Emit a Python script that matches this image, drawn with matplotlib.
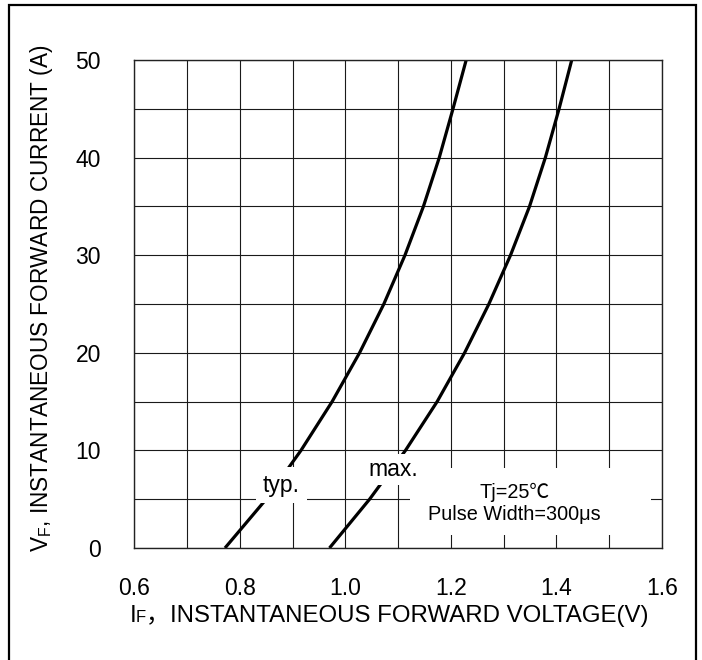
import matplotlib
matplotlib.use("Agg")
import matplotlib.pyplot as plt
from matplotlib.patches import Rectangle
from matplotlib.offsetbox import TextArea, HPacker, AnchoredOffsetbox

plt.rcParams['font.family'] = ['Liberation Sans', 'Noto Sans CJK SC', 'DejaVu Sans']
plt.rcParams['mathtext.fontset'] = 'custom'
plt.rcParams['mathtext.rm'] = 'Liberation Sans'
plt.rcParams['mathtext.it'] = 'Liberation Sans'

# ---- data ----
typ_v = [0.772, 0.850, 0.916, 0.975, 1.027, 1.073, 1.113, 1.148, 1.178, 1.204, 1.229]
typ_i = [0, 5, 10, 15, 20, 25, 30, 35, 40, 45, 50]
max_v = [0.970, 1.046, 1.114, 1.174, 1.226, 1.272, 1.313, 1.349, 1.379, 1.405, 1.429]
max_i = [0, 5, 10, 15, 20, 25, 30, 35, 40, 45, 50]

x_ticks = [0.6, 0.8, 1.0, 1.2, 1.4, 1.6]
x_ticklabels = ['0.6', '0.8', '1.0', '1.2', '1.4', '1.6']
y_ticks = [0, 10, 20, 30, 40, 50]
y_ticklabels = ['0', '10', '20', '30', '40', '50']

W, H = 702, 660
fig = plt.figure(figsize=(W / 100, H / 100), dpi=100)
ax = fig.add_axes([134.2 / W, (H - 548) / H, (662 - 134.2) / W, (548 - 60) / H])

ax.set_xlim(0.6, 1.6)
ax.set_ylim(0, 50)
ax.set_xticks(x_ticks)
ax.set_xticklabels(x_ticklabels)
ax.set_yticks(y_ticks)
ax.set_yticklabels(y_ticklabels)
ax.set_xticks([0.7, 0.9, 1.1, 1.3, 1.5], minor=True)
ax.set_yticks([5, 15, 25, 35, 45], minor=True)
ax.tick_params(which='both', length=0)
ax.tick_params(axis='x', pad=21, labelsize=16.5)
ax.tick_params(axis='y', pad=24, labelsize=16.5)
ax.grid(True, which='both', color='#1a1a1a', lw=0.8, zorder=0)
ax.set_axisbelow(True)
for s in ax.spines.values():
    s.set_linewidth(1.0)
    s.set_color('#222222')
    s.set_zorder(6)

ax.plot(typ_v, typ_i, color='black', lw=2.3, solid_capstyle='butt', solid_joinstyle='round', zorder=2)
ax.plot(max_v, max_i, color='black', lw=2.3, solid_capstyle='butt', solid_joinstyle='round', zorder=2)

ax.text(0.8786, 6.45, 'typ.', fontsize=16.5, ha='center', va='center', zorder=4,
        bbox=dict(boxstyle='square,pad=0.3', fc='white', ec='none'))
ax.text(1.0905, 8.06, 'max.', fontsize=16.5, ha='center', va='center', zorder=4,
        bbox=dict(boxstyle='square,pad=0.18', fc='white', ec='none'))

ax.add_patch(Rectangle((1.1234, 1.33), 1.5788 - 1.1234, 8.2 - 1.33, fc='white', ec='none', zorder=3))
ax.text(1.321, 4.56, 'Tj=25\u2103\nPulse Width=300\u03bcs', fontsize=14.3, ha='center', va='center',
        multialignment='center', linespacing=1.2, zorder=4)

# y label
ax.text(-0.1748, (548 - 298) / 488, r'V$_\mathregular{F}$, INSTANTANEOUS FORWARD CURRENT (A)',
        fontsize=16.3, rotation=90, ha='center', va='center', transform=ax.transAxes)

# x label with small-cap F and full-width comma
fam = ['Liberation Sans', 'Noto Sans CJK SC']
parts = [TextArea('I', textprops=dict(fontsize=17.3, family=fam)),
         TextArea('F', textprops=dict(fontsize=12, family=fam)),
         TextArea('\uff0cINSTANTANEOUS FORWARD VOLTAGE(V)', textprops=dict(fontsize=17.3, family=fam))]
pack = HPacker(children=parts, align='baseline', pad=0, sep=0)
anch = AnchoredOffsetbox(loc='center', child=pack, pad=0, borderpad=0, frameon=False,
                         bbox_to_anchor=((389 - 134.2) / 527.8, (548 - 616) / 488),
                         bbox_transform=ax.transAxes)
ax.add_artist(anch)

# outer frame
fig.add_artist(Rectangle((9 / W, -0.05), (696 - 9) / W, (H - 5) / H + 0.05, transform=fig.transFigure,
                         fill=False, ec='black', lw=1.6))

fig.savefig('out.png', dpi=100)
